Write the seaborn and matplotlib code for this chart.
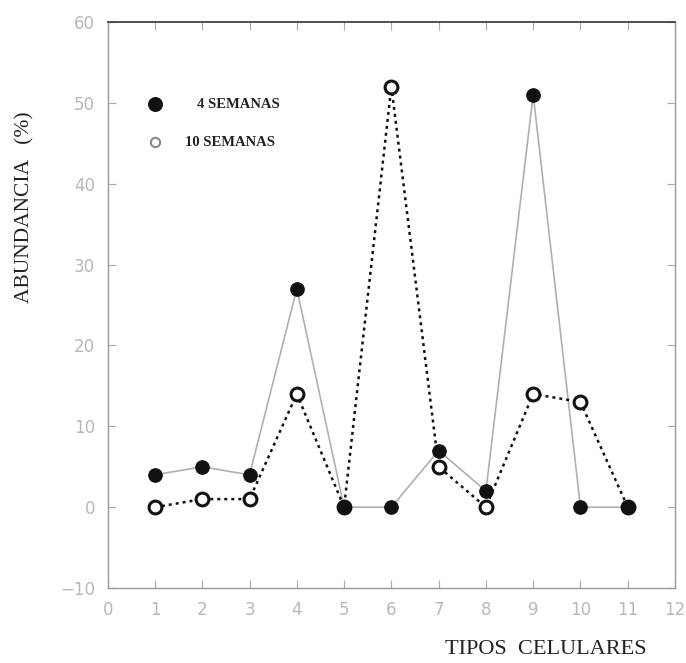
import matplotlib
matplotlib.use("Agg")
import matplotlib.pyplot as plt
import seaborn as sns
import pandas as pd

tipos = [1, 2, 3, 4, 5, 6, 7, 8, 9, 10, 11]
semanas_4 = [4, 5, 4, 27, 0, 0, 7, 2, 51, 0, 0]
semanas_10 = [0, 1, 1, 14, 0, 52, 5, 0, 14, 13, 0]

sns.set_style("white")
plt.rcParams['font.family'] = ['DejaVu Sans']

df4 = pd.DataFrame({'tipo': tipos, 'abundancia': semanas_4})
df10 = pd.DataFrame({'tipo': tipos, 'abundancia': semanas_10})

fig = plt.figure(figsize=(6.86, 6.63), dpi=100)
ax = fig.add_axes([0.157, 0.113, 0.827, 0.854])

# 4 semanas: light grey solid line, filled black dots
sns.lineplot(data=df4, x='tipo', y='abundancia', ax=ax, color='#b0b0b0',
             linewidth=1.2, zorder=2)
sns.scatterplot(data=df4, x='tipo', y='abundancia', ax=ax, color='#111111',
                s=95, edgecolor='#111111', zorder=4)

# 10 semanas: black dotted line, open circles
sns.lineplot(data=df10, x='tipo', y='abundancia', ax=ax, color='#111111',
             linewidth=1.8, linestyle=(0, (1.2, 1.6)), zorder=3)
sns.scatterplot(data=df10, x='tipo', y='abundancia', ax=ax, facecolor='white',
                edgecolor='#111111', linewidth=2.2, s=85, zorder=3.5)

ax.set_xlim(0, 12)
ax.set_ylim(-10, 60)
ax.set_xticks(range(0, 13))
ax.set_yticks(range(-10, 61, 10))
ax.tick_params(axis='both', direction='in', length=6, colors='#aaaaaa',
               labelcolor='#b8b8b8', labelsize=12, pad=9)
ax.tick_params(axis='y', right=True, left=True)
ax.tick_params(axis='x', top=True, bottom=True)
ax.set_xlabel('')
ax.set_ylabel('')

for side in ['left', 'bottom', 'right']:
    ax.spines[side].set_color('#999999')
    ax.spines[side].set_linewidth(1.0)
ax.spines['top'].set_color('#333333')
ax.spines['top'].set_linewidth(1.2)

# legend drawn as in the original
ax.scatter([1], [49.8], s=95, color='#111111', zorder=5)
ax.scatter([1], [45.1], s=45, facecolor='white', edgecolor='#888888', linewidth=1.5, zorder=5)
ax.text(1.88, 49.8, '4 SEMANAS', fontsize=10.5, family='Liberation Serif',
        fontweight='bold', va='center', color='#222222')
ax.text(1.63, 45.1, '10 SEMANAS', fontsize=10.5, family='Liberation Serif',
        fontweight='bold', va='center', color='#222222')

fig.text(0.036, 0.688, 'ABUNDANCIA   (%)', rotation=90, fontsize=15.5,
         family='Liberation Serif', ha='center', va='center', color='#222222')
fig.text(0.795, 0.02, 'TIPOS  CELULARES', fontsize=16,
         family='Liberation Serif', ha='center', va='center', color='#222222')

fig.savefig('out.png', dpi=100)
